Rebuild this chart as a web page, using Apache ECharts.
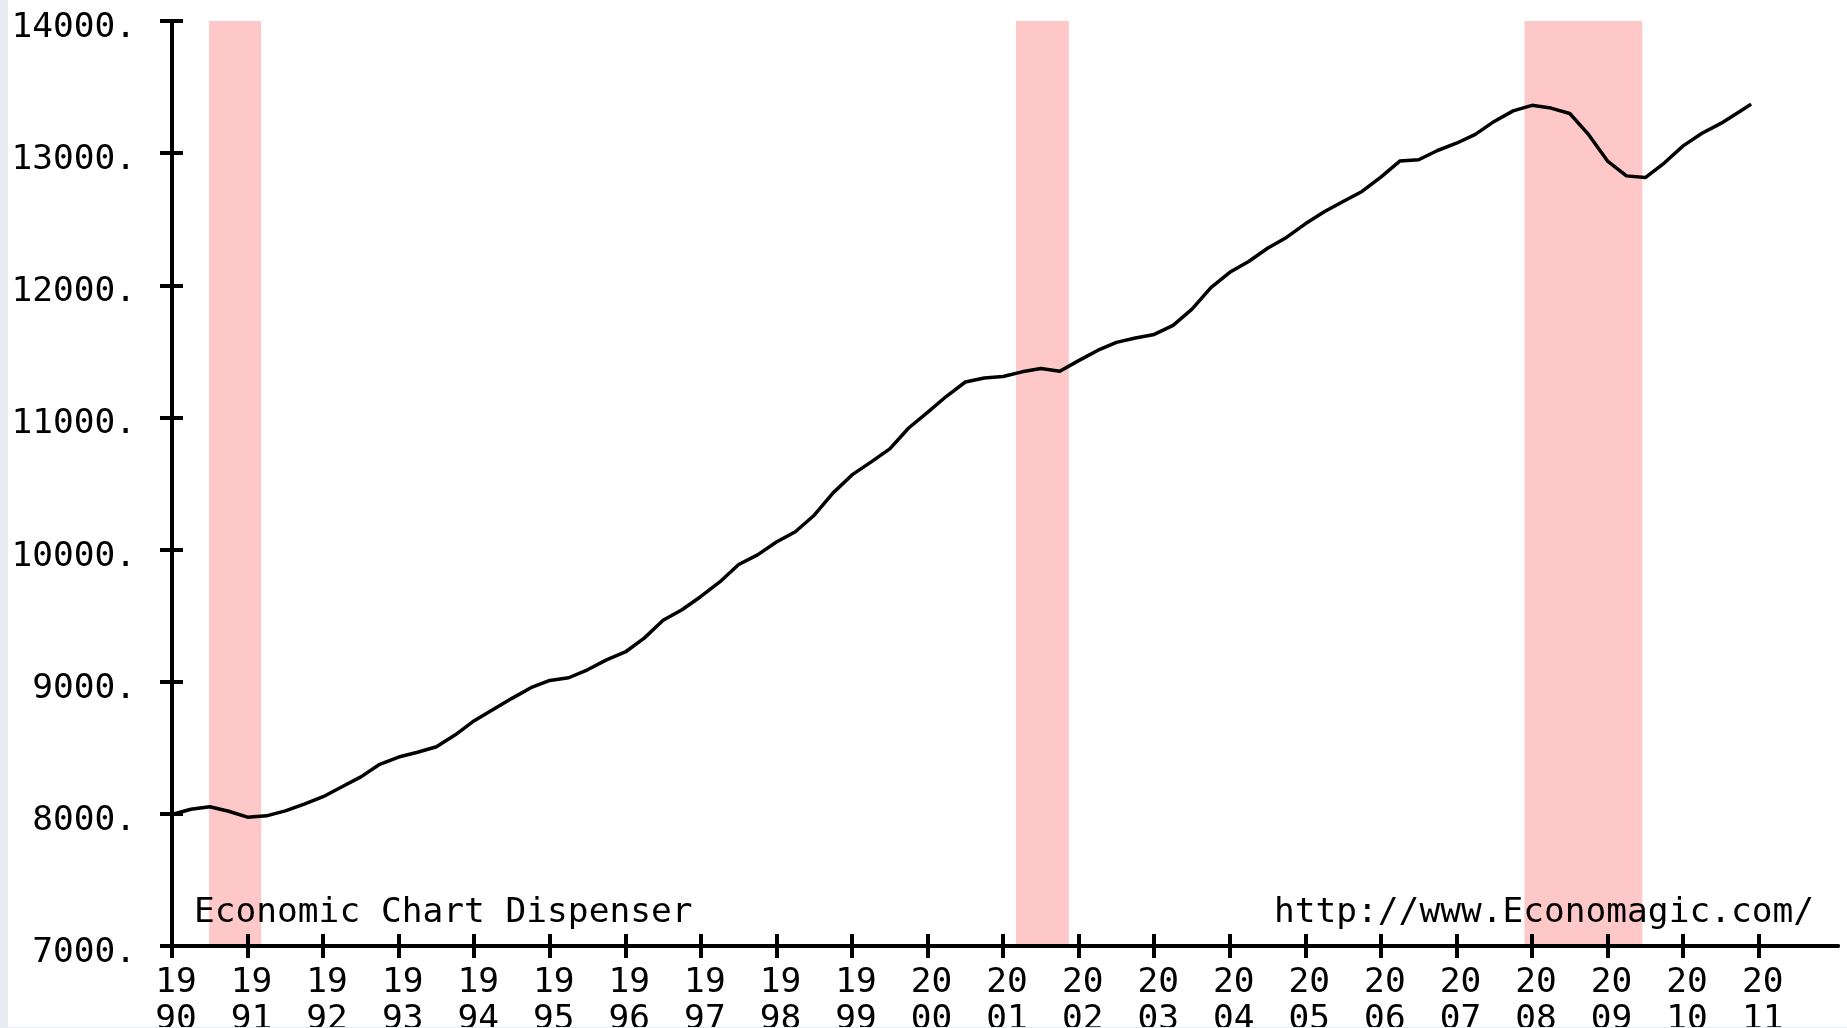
<!DOCTYPE html>
<html>
<head>
<meta charset="utf-8">
<title>Economic Chart Dispenser</title>
<script src="https://cdn.jsdelivr.net/npm/echarts/dist/echarts.min.js"></script>
<style>
    html, body { margin: 0; padding: 0; background: #fff; }
    #char { width: 1847px; height: 1028px; }
</style>
</head>
<body>
<div id="char"></div>
<script>
// quarterly points (decimal year)
var dates = [
    1990.00, 1990.25, 1990.50, 1990.75,
    1991.00, 1991.25, 1991.50, 1991.75,
    1992.00, 1992.25, 1992.50, 1992.75,
    1993.00, 1993.25, 1993.50, 1993.75,
    1994.00, 1994.25, 1994.50, 1994.75,
    1995.00, 1995.25, 1995.50, 1995.75,
    1996.00, 1996.25, 1996.50, 1996.75,
    1997.00, 1997.25, 1997.50, 1997.75,
    1998.00, 1998.25, 1998.50, 1998.75,
    1999.00, 1999.25, 1999.50, 1999.75,
    2000.00, 2000.25, 2000.50, 2000.75,
    2001.00, 2001.25, 2001.50, 2001.75,
    2002.00, 2002.25, 2002.50, 2002.75,
    2003.00, 2003.25, 2003.50, 2003.75,
    2004.00, 2004.25, 2004.50, 2004.75,
    2005.00, 2005.25, 2005.50, 2005.75,
    2006.00, 2006.25, 2006.50, 2006.75,
    2007.00, 2007.25, 2007.50, 2007.75,
    2008.00, 2008.25, 2008.50, 2008.75,
    2009.00, 2009.25, 2009.50, 2009.75,
    2010.00, 2010.25, 2010.50, 2010.75,
    2010.90
];
var values = [
    7995, 8035, 8054, 8020,
    7975, 7985, 8023, 8073,
    8130, 8205, 8280, 8375,
    8430, 8466, 8508, 8598,
    8705, 8790, 8874, 8955,
    9010, 9030, 9090, 9165,
    9225, 9330, 9465, 9545,
    9645, 9755, 9887, 9960,
    10057, 10135, 10260, 10429,
    10565, 10662, 10762, 10920,
    11038, 11160, 11268, 11298,
    11310, 11345, 11370, 11350,
    11430, 11507, 11568, 11601,
    11628, 11697, 11820, 11983,
    12098, 12180, 12280, 12362,
    12465, 12556, 12634, 12710,
    12819, 12940, 12950, 13020,
    13075, 13142, 13240, 13320,
    13362, 13341, 13300, 13140,
    12940, 12828, 12815, 12925,
    13055, 13150, 13225, 13315,
    13371
];
// recessions (start, end)
var recessions = [
    [1990.49, 1991.18],
    [2001.17, 2001.87],
    [2007.90, 2009.46]
];
var yTicks = [7000, 8000, 9000, 10000, 11000, 12000, 13000, 14000];
var xTicks = [1990, 1991, 1992, 1993, 1994, 1995, 1996, 1997, 1998, 1999, 2000,
    2001, 2002, 2003, 2004, 2005, 2006, 2007, 2008, 2009, 2010, 2011];

var mono = 'DejaVu Sans Mono';

var lineData = [];
for (var i = 0; i < dates.length; i++) {
    lineData.push([dates[i], values[i]]);
}
var bands = [];
for (var j = 0; j < recessions.length; j++) {
    bands.push([{ xAxis: recessions[j][0] }, { xAxis: recessions[j][1] }]);
}

var dom = document.getElementById("char");
var myChart = echarts.init(dom);

var axisLine = { show: true, lineStyle: { color: '#000', width: 4 } };

option = {
    animation: false,
    backgroundColor: '#fff',
    grid: { left: 172, right: 9, top: 21, bottom: 82, containLabel: false, outerBoundsMode: 'none' },
    xAxis: [
        {
            type: 'value', min: 1990, max: 2012.05, z: 5,
            axisLine: axisLine,
            axisTick: { show: true, inside: false, length: 12, lineStyle: { color: '#000', width: 4 }, customValues: xTicks },
            axisLabel: {
                customValues: xTicks,
                margin: 19,
                color: '#000',
                fontFamily: mono,
                fontSize: 34.5,
                lineHeight: 37,
                padding: [0, 0, 0, 8],
                formatter: function (v) {
                    var s = String(Math.round(v));
                    return s.slice(0, 2) + '\n' + s.slice(2);
                }
            },
            splitLine: { show: false }
        },
        {
            type: 'value', min: 1990, max: 2012.05, z: 5, position: 'bottom',
            axisLine: axisLine,
            axisTick: { show: true, inside: true, length: 12, lineStyle: { color: '#000', width: 4 }, customValues: xTicks },
            axisLabel: { show: false },
            splitLine: { show: false }
        }
    ],
    yAxis: [
        {
            type: 'value', min: 7000, max: 14000, z: 5,
            axisLine: axisLine,
            axisTick: { show: true, inside: false, length: 12, lineStyle: { color: '#000', width: 4 }, customValues: yTicks },
            axisLabel: {
                customValues: yTicks,
                margin: 36,
                color: '#000',
                fontFamily: mono,
                fontSize: 34.5,
                verticalAlign: 'top',
                lineHeight: 14,
                formatter: function (v) {
                    return String(Math.round(v)) + '.';
                }
            },
            splitLine: { show: false }
        },
        {
            type: 'value', min: 7000, max: 14000, z: 5, position: 'left',
            axisLine: axisLine,
            axisTick: { show: true, inside: true, length: 11, lineStyle: { color: '#000', width: 4 }, customValues: yTicks },
            axisLabel: { show: false },
            splitLine: { show: false }
        }
    ],
    series: [
        {
            // shaded recessions
            type: 'line',
            z: 1,
            data: [],
            silent: true,
            markArea: {
                silent: true,
                itemStyle: { color: '#FFC8C8', opacity: 1 },
                data: bands
            }
        },
        {
            type: 'line',
            z: 3,
            data: lineData,
            showSymbol: false,
            smooth: false,
            lineStyle: { color: '#000', width: 3.5 }
        }
    ],
    graphic: [
        {
            type: 'text', left: 194, top: 896, z: 10,
            style: { text: 'Economic Chart Dispenser', font: '34.5px "DejaVu Sans Mono"', fill: '#000' }
        },
        {
            type: 'text', left: 1274, top: 896, z: 10,
            style: { text: 'http://www.Economagic.com/', font: '34.5px "DejaVu Sans Mono"', fill: '#000' }
        },
        { type: 'rect', left: 0, top: 0, z: 20, shape: { width: 8, height: 1028 }, style: { fill: '#E8ECF2' } },
        { type: 'rect', left: 0, top: 1027, z: 20, shape: { width: 1847, height: 1 }, style: { fill: '#E8ECF2' } }
    ]
};
myChart.setOption(option);
</script>
</body>
</html>
